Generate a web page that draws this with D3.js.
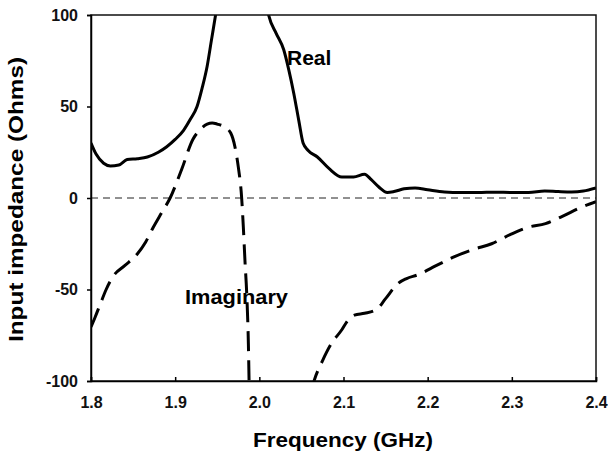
<!DOCTYPE html>
<html>
<head>
<meta charset="utf-8">
<script src="https://cdn.jsdelivr.net/npm/d3@7"></script>
<style>
  body { margin: 0; background: #fff; }
  svg { display: block; font-family: "Liberation Sans", Arial, sans-serif; }
  .tick text { font-weight: bold; font-size: 16px; fill: #111; }
</style>
</head>
<body>
<div id="chart"></div>
<script>
// Real part of input impedance (GHz, Ohms)
const realFreq = [1.800, 1.806, 1.815, 1.823, 1.833, 1.843, 1.855, 1.867, 1.880, 1.890, 1.900, 1.910, 1.918, 1.926, 1.932, 1.938, 1.943, 1.948, 1.952];
const realVals = [30, 24, 19, 17.5, 18, 21, 21.5, 22.4, 25, 28, 32, 37, 43, 50, 60, 72, 86, 100, 112];
const realFreq2 = [2.006, 2.011, 2.020, 2.029, 2.035, 2.041, 2.047, 2.052, 2.058, 2.069, 2.083, 2.098, 2.112, 2.125, 2.133, 2.142, 2.152, 2.160, 2.172, 2.185, 2.200, 2.220, 2.240, 2.260, 2.280, 2.300, 2.320, 2.339, 2.355, 2.371, 2.385, 2.400];
const realVals2 = [112, 100, 90, 81, 70, 57, 42, 30, 26, 22.4, 16, 11.5, 11.5, 13, 10, 6, 3, 3.5, 5, 5.5, 4.5, 3.3, 3, 3, 3.2, 3, 3, 3.8, 3.5, 3.3, 3.8, 5.5];

// Imaginary part
const imagFreq = [1.800, 1.805, 1.811, 1.818, 1.826, 1.840, 1.855, 1.865, 1.874, 1.884, 1.894, 1.908, 1.921, 1.930, 1.938, 1.944, 1.950, 1.958, 1.966, 1.971, 1.975, 1.979, 1.981, 1.983, 1.985, 1.987, 1.988];
const imagVals = [-70.5, -65, -58, -50, -43, -37, -30.6, -24, -16, -8, 0, 16, 32, 37.5, 40.4, 41, 40.4, 39, 35.5, 28, 17, 0, -16, -35, -52, -80, -105];
const imagFreq2 = [2.062, 2.065, 2.075, 2.085, 2.098, 2.105, 2.113, 2.125, 2.139, 2.150, 2.164, 2.175, 2.188, 2.210, 2.232, 2.255, 2.276, 2.298, 2.319, 2.340, 2.360, 2.383, 2.400];
const imagVals2 = [-105, -100, -89, -80, -72, -67, -64, -63, -61, -55, -47, -44, -42, -37, -32, -28, -25, -20, -16, -14, -10, -5, -2];

const xTicks = [1.8, 1.9, 2.0, 2.1, 2.2, 2.3, 2.4];
const yTicks = [-100, -50, 0, 50, 100];

const width = 608, height = 457;
const margin = { top: 15, right: 12, bottom: 76, left: 91 };

const svg = d3.select('#chart')
    .append('svg')
    .attr('width', width)
    .attr('height', height);

const x = d3.scaleLinear().domain([1.8, 2.4]).range([margin.left, width - margin.right]);
const y = d3.scaleLinear().domain([-100, 100]).range([height - margin.bottom, margin.top]);

svg.append('clipPath')
    .attr('id', 'plotClip')
    .append('rect')
    .attr('x', margin.left)
    .attr('y', margin.top)
    .attr('width', x.range()[1] - margin.left)
    .attr('height', y.range()[0] - margin.top);

// Zero line
svg.append('line')
    .attr('x1', x(1.8)).attr('x2', x(2.4))
    .attr('y1', y(0)).attr('y2', y(0))
    .attr('stroke', '#222')
    .attr('stroke-width', 1)
    .attr('stroke-dasharray', '7,5');

const line = d3.line()
    .x(d => x(d[0]))
    .y(d => y(d[1]))
    .curve(d3.curveMonotoneX);

const plot = svg.append('g').attr('clip-path', 'url(#plotClip)');

[[realFreq, realVals], [realFreq2, realVals2]].forEach(([f, v]) => {
    plot.append('path')
        .datum(f.map((d, i) => [d, v[i]]))
        .attr('fill', 'none')
        .attr('stroke', '#000')
        .attr('stroke-width', 3)
        .attr('stroke-linejoin', 'round')
        .attr('d', line);
});

[[imagFreq, imagVals], [imagFreq2, imagVals2]].forEach(([f, v]) => {
    plot.append('path')
        .datum(f.map((d, i) => [d, v[i]]))
        .attr('fill', 'none')
        .attr('stroke', '#000')
        .attr('stroke-width', 3)
        .attr('stroke-dasharray', '20,9')
        .attr('d', line);
});

// Frame
svg.append('rect')
    .attr('x', margin.left)
    .attr('y', margin.top)
    .attr('width', x.range()[1] - margin.left)
    .attr('height', y.range()[0] - margin.top)
    .attr('fill', 'none')
    .attr('stroke', '#111')
    .attr('stroke-width', 1.5);

// Axes
svg.append('g')
    .attr('transform', `translate(0,${y(-100)})`)
    .call(d3.axisBottom(x).tickValues(xTicks).tickFormat(d3.format('.1f')).tickSize(-4).tickPadding(16))
    .call(g => g.select('.domain').attr('stroke-width', 1.5))
    .call(g => g.selectAll('.tick line').attr('stroke-width', 1.5));

svg.append('g')
    .attr('transform', `translate(${x(1.8)},0)`)
    .call(d3.axisLeft(y).tickValues(yTicks).tickFormat(d => String(d)).tickSize(4).tickPadding(9))
    .call(g => g.select('.domain').attr('stroke-width', 1.5))
    .call(g => g.selectAll('.tick line').attr('stroke-width', 1.5));

// Axis titles
svg.append('text')
    .attr('x', 253)
    .attr('y', 447)
    .attr('font-size', 20)
    .attr('font-weight', 'bold')
    .attr('textLength', 180)
    .attr('lengthAdjust', 'spacingAndGlyphs')
    .text('Frequency (GHz)');

svg.append('text')
    .attr('transform', `translate(23,342) rotate(-90)`)
    .attr('font-size', 20)
    .attr('font-weight', 'bold')
    .attr('textLength', 285)
    .attr('lengthAdjust', 'spacingAndGlyphs')
    .text('Input impedance (Ohms)');

// Curve labels
svg.append('text')
    .attr('x', 287)
    .attr('y', 65)
    .attr('font-size', 21)
    .attr('font-weight', 'bold')
    .text('Real');

svg.append('text')
    .attr('x', 185)
    .attr('y', 304)
    .attr('font-size', 21)
    .attr('font-weight', 'bold')
    .attr('textLength', 103)
    .attr('lengthAdjust', 'spacingAndGlyphs')
    .text('Imaginary');
</script>
</body>
</html>
